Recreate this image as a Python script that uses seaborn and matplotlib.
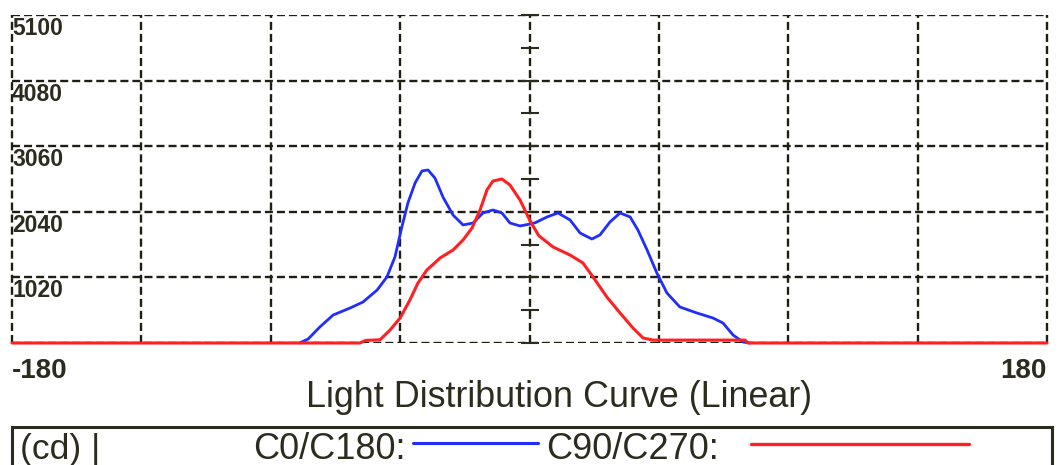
import matplotlib
matplotlib.use("Agg")
import matplotlib.pyplot as plt
import numpy as np
import pandas as pd
import seaborn as sns
from matplotlib.lines import Line2D
from matplotlib.patches import Rectangle

# C0/C180 plane (blue)
c0_angle = [-80, -77, -72.9, -68.3, -62.4, -57.9, -53, -49.6, -46.8, -44.4, -42.3, -39.8,
            -37.4, -35.3, -32.9, -30.1, -26.6, -23.1, -19.6, -16.2, -12.7, -9.6, -6.8,
            -3.3, 0.2, 2, 6.1, 9.9, 14.1, 17.6, 21.7, 24.5, 28, 31.5, 35, 37.7, 40.9,
            44.3, 47.8, 52.3, 58.2, 63.8, 67.3, 70.8, 74.3, 76.7]
c0_cd = [0, 62, 250, 435, 544, 638, 824, 1026, 1337, 1804, 2177, 2488,
         2675, 2690, 2566, 2270, 1990, 1835, 1866, 2022, 2068, 2022, 1866,
         1820, 1850, 1870, 1960, 2022, 1913, 1710, 1617, 1680, 1882, 2022, 1960, 1757, 1446,
         1088, 778, 560, 467, 389, 311, 124, 15, 0]

# C90/C270 plane (red)
c90_angle = [-180, -59, -57, -52, -48.5, -45, -41.6, -38.8, -35.7, -31.1, -26.6, -23.1,
             -20, -17.2, -14.8, -12.7, -9.6, -6.8, -3.3, 0.2, 3.2, 8.2, 14.1, 18.6,
             22.1, 26.9, 31.5, 36, 39.5, 43, 75, 76, 180]
c90_cd = [0, 0, 40, 50, 202, 389, 669, 933, 1135, 1322, 1446, 1602,
          1788, 2068, 2380, 2519, 2550, 2457, 2224, 1900, 1670, 1493, 1368, 1244,
          1026, 716, 467, 233, 78, 45, 45, 0, 0]

x_ticks = [-180, -135, -90, -45, 0, 45, 90, 135, 180]
x_labels = ["-180", "", "", "", "", "", "", "", "180"]
y_ticks = [0, 1020, 2040, 3060, 4080, 5100]
y_labels = ["", "1020", "2040", "3060", "4080", "5100"]
y_minor = [510, 1530, 2550, 3570, 4590]

W, H = 1059, 465
ink = "#2c2c1e"
blue = "#1f2dff"
red = "#ff2121"

sns.set_theme(style="white")
plt.rcParams["font.family"] = ["Liberation Sans", "DejaVu Sans"]

fig = plt.figure(figsize=(W / 100, H / 100), dpi=100)
ax = fig.add_axes([12 / W, 122 / H, 1035 / W, 328 / H])

df0 = pd.DataFrame({"angle": c0_angle, "cd": c0_cd})
df90 = pd.DataFrame({"angle": c90_angle, "cd": c90_cd})
sns.lineplot(data=df0, x="angle", y="cd", color=blue, lw=2.0, ax=ax, zorder=3)
sns.lineplot(data=df90, x="angle", y="cd", color=red, lw=2.2, ax=ax, zorder=4)
for ln in ax.lines:
    ln.set_clip_on(False)
    ln.set_solid_joinstyle("round")

ax.set_xlim(-180, 180)
ax.set_ylim(0, 5100)
ax.set_xlabel("")
ax.set_ylabel("")

# dashed grid, drawn full width at the edges
ax.set_xticks(x_ticks)
ax.set_xticklabels(x_labels, fontsize=20, fontweight="bold", color=ink)
ax.set_yticks(y_ticks)
ax.set_yticks(y_minor, minor=True)
ax.grid(True, which="major", color="#1e1e14", lw=1.7, linestyle=(0, (3.4, 1.7)))
for gl in ax.get_xgridlines() + ax.get_ygridlines():
    gl.set_clip_on(False)

for s in ax.spines.values():
    s.set_color("none")

# central axis with cross ticks
ax.spines["left"].set_position(("data", 0))
ax.tick_params(axis="y", which="both", left=True, direction="inout", length=13,
               width=1.5, color=ink, labelleft=False)
ax.tick_params(axis="x", length=0, pad=11)
xt = ax.get_xticklabels()
xt[0].set_ha("left")
xt[-1].set_ha("right")

for v, lab in zip(y_ticks, y_labels):
    if lab:
        ax.annotate(lab, xy=(-180, v), xytext=(0, -1.5), textcoords="offset points",
                    ha="left", va="top", fontsize=16.5, fontweight="bold", color=ink)

fig.text(559 / W, (H - 407) / H, "Light Distribution Curve (Linear)", ha="center",
         va="baseline", fontsize=25.8, color=ink)

# legend strip
fig.add_artist(Rectangle((12 / W, -0.2), 1040 / W, 0.2 + (H - 427) / H,
                         transform=fig.transFigure, fill=False, lw=2.2, ec=ink))
base = (H - 459) / H
fig.text(20 / W, base, "(cd) |", ha="left", va="baseline", fontsize=25.5, color=ink)
fig.text(253 / W, base, "C0/C180:", ha="left", va="baseline", fontsize=26, color=ink)
fig.text(546 / W, base, "C90/C270:", ha="left", va="baseline", fontsize=26, color=ink)
fig.add_artist(Line2D([413 / W, 538 / W], [(H - 443) / H] * 2, color=blue, lw=2.2,
                      transform=fig.transFigure))
fig.add_artist(Line2D([751 / W, 969 / W], [(H - 444) / H] * 2, color=red, lw=2.4,
                      transform=fig.transFigure))

fig.savefig("out.png", dpi=100, facecolor="white")
